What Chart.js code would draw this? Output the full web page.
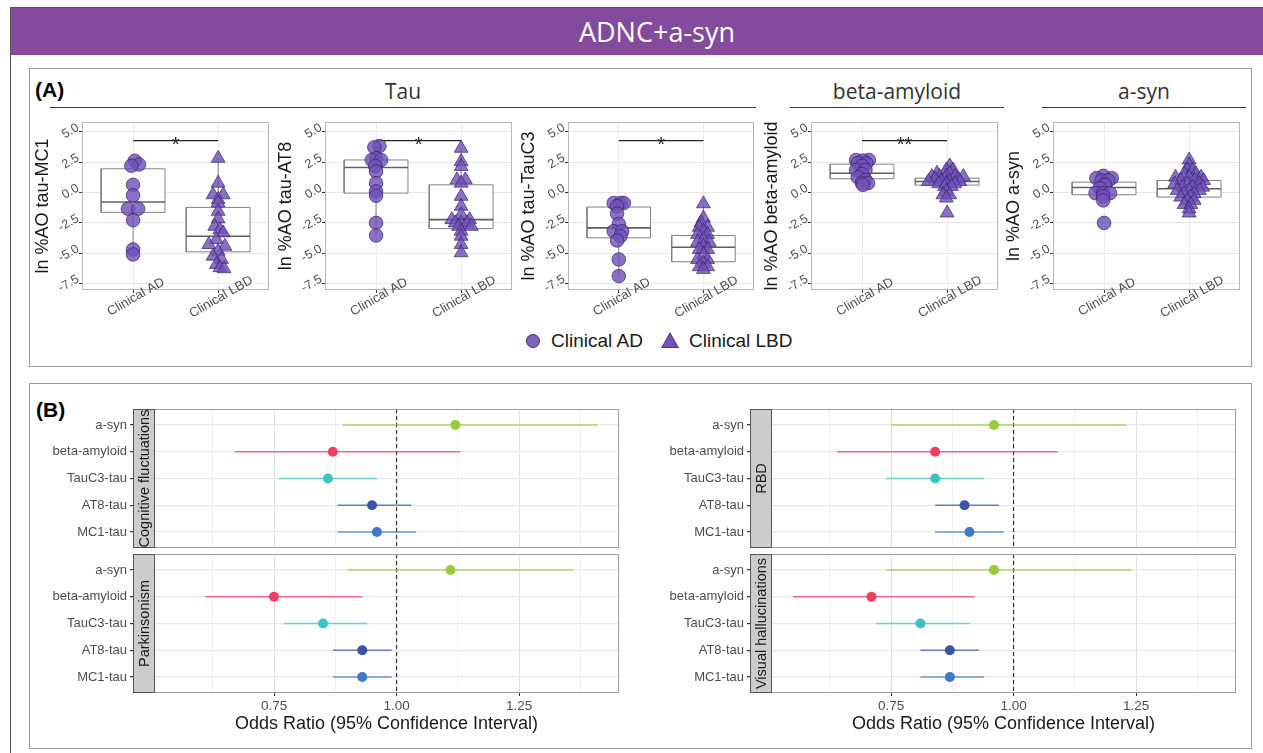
<!DOCTYPE html>
<html>
<head>
<title>ADNC+a-syn</title>
<script src="https://cdn.jsdelivr.net/npm/chart.js"></script>
<style>
  body { margin: 0; width: 1263px; height: 753px; overflow: hidden; background: #fff; position: relative;
         font-family: "Liberation Sans", Arial, sans-serif; }
  .abs { position: absolute; }
  canvas { position: absolute; }
  #frame { left: 10px; top: 7px; width: 1262px; height: 760px; border: 1.5px solid #555; box-sizing: border-box; }
  #header { left: 11px; top: 8px; width: 1292px; height: 47px; background: #834a9e; color: #fff;
            font: 27px "Open Sans", sans-serif; text-align: center; line-height: 47px; }
  .panel { border: 1px solid #9a9a9a; box-sizing: border-box; }
  .plabel { font: bold 21px "Liberation Sans", Arial, sans-serif; color: #000; }
  .strip { font: 21px "Open Sans", sans-serif; color: #333; text-align: center; line-height: 28px;
           height: 30px; border-bottom: 1.5px solid #333; }
  .leg { font-size: 19px; color: #1a1a1a; white-space: nowrap; top: 330px; }
  .dot { width: 14px; height: 14px; border-radius: 50%; background: rgba(112, 82, 184, 0.9);
         border: 1px solid #3a2a6a; box-sizing: border-box; top: 334px; }
  .tri { width: 18px; height: 16px; clip-path: polygon(50% 0, 100% 100%, 0 100%); background: #4a3590; top: 332px; }
  .tri::after { content: ""; position: absolute; left: 1.5px; top: 2px; width: 15px; height: 13px;
                clip-path: polygon(50% 0, 100% 100%, 0 100%); background: #7252b8; }
</style>
</head>
<body>
<div id="frame" class="abs"></div>
<div id="header" class="abs">ADNC+a-syn</div>

<div class="abs panel" style="left:29px; top:68px; width:1223px; height:299px;"></div>
<div class="abs panel" style="left:29px; top:383px; width:1223px; height:366px;"></div>

<div class="abs plabel" style="left:35px; top:78px;">(A)</div>
<div class="abs plabel" style="left:36px; top:398px;">(B)</div>

<div class="abs strip" style="left:50px; top:77px; width:706px;">Tau</div>
<div class="abs strip" style="left:790px; top:77px; width:214px;">beta-amyloid</div>
<div class="abs strip" style="left:1042px; top:77px; width:204px;">a-syn</div>

<div class="abs dot" style="left:526px;"></div>
<div class="abs leg" style="left:551px;">Clinical AD</div>
<div class="abs tri" style="left:661px;"></div>
<div class="abs leg" style="left:689px;">Clinical LBD</div>

<script>
  Chart.defaults.font.family = '"Liberation Sans", Arial, sans-serif';

  // ---- Panel A data ----
  const groups = ['Clinical AD', 'Clinical LBD'];
  const yMajor = [-7.5, -5.0, -2.5, 0, 2.5, 5.0];
  const yMinor = [-6.25, -3.75, -1.25, 1.25, 3.75];

  // box stats per group: [min, q1, median, q3, max]
  const mc1Box = [[-5.12, -1.65, -0.8, 1.94, 2.67], [-6.21, -4.9, -3.62, -1.24, 2.81]];
  const mc1AD = [2.6, 2.3, 2.2, 0.62, -0.25, -1.35, -1.35, -2.3, -4.71, -5.12];
  const mc1ADjit = [0.02, 0.07, -0.02, 0, 0, -0.06, 0.06, 0, 0, 0];
  const mc1LBD = [2.81, 0.76, -0.2, -0.2, -0.6, -0.88, -1.56, -2.19, -2.8, -3.07, -3.34, -3.89, -4.3, -4.44, -4.85, -5.26, -5.53, -5.94, -6.21, -6.3];
  const mc1LBDjit = [0, 0, -0.06, 0.06, 0, 0, 0, 0, -0.04, 0.02, 0.06, -0.02, -0.11, 0.08, 0, -0.06, 0.04, -0.02, 0.02, 0.07];

  const at8Box = [[-3.56, -0.06, 2.05, 2.67, 3.82], [-4.98, -2.99, -2.25, 0.62, 3.63]];
  const at8AD = [3.82, 3.71, 2.81, 2.67, 2.67, 2.18, 1.72, 0.76, 0.08, -0.28, -2.52, -3.56];
  const at8ADjit = [0.04, -0.02, 0, -0.05, 0.06, -0.01, 0, 0, 0, 0, 0, 0];
  const at8LBD = [3.63, 2.54, 2.13, 1.03, 1.03, 0.76, -0.33, -1.15, -1.84, -2.25, -2.25, -2.52, -2.52, -2.52, -2.8, -2.8, -3.2, -3.62, -4.3, -4.98];
  const at8LBDjit = [0, 0, 0, -0.05, 0.05, 0, 0, 0, 0, -0.11, 0.1, 0, -0.07, 0.07, -0.03, 0.12, 0, 0, 0, 0];

  const tc3Box = [[-6.9, -3.75, -2.93, -1.21, -0.88], [-6.35, -5.72, -4.52, -3.56, -0.94]];
  const tc3AD = [-0.88, -0.88, -0.88, -1.15, -1.76, -2.6, -3.2, -3.2, -3.62, -3.97, -5.53, -6.9];
  const tc3ADjit = [-0.06, 0.02, 0.06, -0.02, -0.02, 0, -0.06, 0.04, 0.02, -0.02, 0, 0];
  const tc3LBD = [-0.94, -2.11, -2.52, -2.88, -2.88, -3.2, -3.48, -3.48, -3.89, -4.11, -4.11, -4.44, -4.71, -4.71, -5.12, -5.53, -5.53, -5.86, -6.13, -6.13, -6.35];
  const tc3LBDjit = [0, 0, -0.03, -0.05, 0.05, 0, -0.07, 0.05, 0, -0.07, 0.07, 0, -0.05, 0.05, 0, -0.07, 0.05, 0, -0.05, 0.05, 0];

  const abBox = [[0.62, 1.12, 1.58, 2.32, 2.67], [-0.2, 0.6, 0.9, 1.17, 1.85]];
  const abAD = [2.67, 2.67, 2.62, 2.4, 2.4, 2.18, 1.85, 1.85, 1.5, 1.25, 1.03, 0.76, 0.76, 0.62];
  const abADjit = [-0.07, 0.08, 0.01, -0.05, 0.05, 0, -0.07, 0.04, 0, -0.05, 0.04, 0, 0.07, 0.01];
  const abLBD = [2.18, 1.85, 1.85, 1.58, 1.58, 1.3, 1.3, 1.3, 1.3, 1.3, 1.09, 1.09, 1.09, 0.9, 0.9, 0.9, 0.9, 0.71, 0.71, 0.71, 0.49, 0.49, 0.08, -0.2, -0.2, -0.47, -1.7];
  const abLBDjit = [0.03, -0.01, 0.07, -0.12, 0.03, -0.18, -0.09, -0.01, 0.09, 0.19, -0.14, -0.03, 0.13, -0.22, -0.07, 0.03, 0.15, -0.1, -0.01, 0.09, -0.03, 0.05, -0.01, -0.05, 0.03, -0.01, 0];

  const asBox = [[-0.66, -0.2, 0.4, 0.84, 1.36], [-1.7, -0.39, 0.3, 0.98, 2.67]];
  const asAD = [1.36, 1.17, 1.17, 0.98, 0.98, 0.62, 0.35, -0.06, -0.06, -0.06, -0.33, -0.66, -2.52];
  const asADjit = [-0.01, -0.09, 0.09, -0.03, 0.05, 0.01, -0.05, -0.1, -0.01, 0.07, -0.01, -0.01, 0];
  const asLBD = [2.67, 2.26, 1.85, 1.85, 1.53, 1.53, 1.25, 1.25, 1.25, 0.98, 0.98, 0.98, 0.71, 0.71, 0.71, 0.43, 0.43, 0.43, 0.16, 0.16, 0.16, -0.11, -0.11, -0.39, -0.39, -0.66, -0.66, -1.0, -1.0, -1.37, -1.7];
  const asLBDjit = [0, 0, -0.02, 0.04, -0.06, 0.08, -0.16, 0, 0.14, -0.1, 0.06, 0.17, -0.17, -0.02, 0.12, -0.08, 0.04, 0.16, -0.14, 0, 0.12, -0.06, 0.06, -0.1, 0.02, -0.02, 0.06, -0.06, 0.02, 0, 0];

  // significance bars: [y, label]
  const mc1Sig = [4.26, '*'];
  const at8Sig = [4.26, '*'];
  const tc3Sig = [4.26, '*'];
  const abSig = [4.26, '**'];

  // ---- Panel B data ----
  const orLabels = ['a-syn', 'beta-amyloid', 'TauC3-tau', 'AT8-tau', 'MC1-tau'];
  const orColors = ['#9acb3c', '#ef3e63', '#3fc2c5', '#3b55a5', '#3f79c9'];
  const xMajor = [0.75, 1.0, 1.25];
  const xMinor = [0.625, 0.875, 1.125, 1.375];

  const cogOR = [1.12, 0.87, 0.86, 0.95, 0.96];
  const cogLo = [0.89, 0.67, 0.76, 0.88, 0.88];
  const cogHi = [1.41, 1.13, 0.96, 1.03, 1.04];

  const parkOR = [1.11, 0.75, 0.85, 0.93, 0.93];
  const parkLo = [0.90, 0.61, 0.77, 0.87, 0.87];
  const parkHi = [1.36, 0.93, 0.94, 0.99, 0.99];

  const rbdOR = [0.96, 0.84, 0.84, 0.90, 0.91];
  const rbdLo = [0.75, 0.64, 0.74, 0.84, 0.84];
  const rbdHi = [1.23, 1.09, 0.94, 0.97, 0.98];

  const vhOR = [0.96, 0.71, 0.81, 0.87, 0.87];
  const vhLo = [0.74, 0.55, 0.72, 0.81, 0.81];
  const vhHi = [1.24, 0.92, 0.91, 0.93, 0.94];

  const purpleFill = 'rgba(112, 82, 184, 0.82)';
  const purpleEdge = 'rgba(50, 32, 105, 0.85)';

  function makeCanvas(x, y, w, h) {
    const c = document.createElement('canvas');
    c.width = w; c.height = h;
    c.style.left = x + 'px'; c.style.top = y + 'px';
    c.style.width = w + 'px'; c.style.height = h + 'px';
    document.body.appendChild(c);
    return c;
  }

  // panel frame, significance label, slanted group labels, facet strip
  const deco = {
    id: 'deco',
    afterDatasetsDraw(chart, args, opts) {
      const a = chart.chartArea, ctx = chart.ctx;
      ctx.save();
      ctx.strokeStyle = opts.frame || '#b3b3b3';
      ctx.lineWidth = 1;
      ctx.strokeRect(Math.round(a.left) + 0.5, Math.round(a.top) + 0.5,
                     Math.round(a.right - a.left) - 1, Math.round(a.bottom - a.top) - 1);
      if (opts.sig) {
        const x = chart.scales.x.getPixelForValue(1.5);
        const y = chart.scales.y.getPixelForValue(opts.sig[0]);
        ctx.fillStyle = '#222';
        ctx.font = '20px "Liberation Sans", Arial, sans-serif';
        ctx.textAlign = 'center';
        ctx.textBaseline = 'alphabetic';
        ctx.fillText(opts.sig[1], x, y + 10);
      }
      ctx.restore();
    },
    afterDraw(chart, args, opts) {
      const a = chart.chartArea, ctx = chart.ctx;
      if (opts.cats) {
        const sx = chart.scales.x;
        ctx.save();
        ctx.fillStyle = '#4d4d4d';
        ctx.font = '13px "Liberation Sans", Arial, sans-serif';
        ctx.textAlign = 'center';
        ctx.textBaseline = 'middle';
        sx.ticks.forEach(t => {
          ctx.save();
          ctx.translate(sx.getPixelForValue(t.value) + 3, a.bottom + 7);
          ctx.rotate(-Math.PI / 6);
          ctx.fillText(opts.cats[t.value - 1], 0, 0);
          ctx.restore();
        });
        ctx.restore();
      }
      if (!opts.strip) return;
      const w = 21;
      ctx.save();
      ctx.fillStyle = '#cccccc';
      ctx.fillRect(a.left - w, a.top, w, a.bottom - a.top);
      ctx.strokeStyle = '#555';
      ctx.lineWidth = 1;
      ctx.strokeRect(Math.round(a.left - w) + 0.5, Math.round(a.top) + 0.5, w, Math.round(a.bottom - a.top) - 1);
      ctx.translate(a.left - w / 2, (a.top + a.bottom) / 2);
      ctx.rotate(-Math.PI / 2);
      ctx.fillStyle = '#1a1a1a';
      ctx.font = '14.5px "Liberation Sans", Arial, sans-serif';
      ctx.textAlign = 'center';
      ctx.textBaseline = 'middle';
      ctx.fillText(opts.strip, 0, 1);
      ctx.restore();
    }
  };

  function lineDs(points, color, width, order, extra) {
    return Object.assign({ type: 'line', data: points, borderColor: color, borderWidth: width,
      pointRadius: 0, fill: false, tension: 0, order: order }, extra || {});
  }

  function boxChart(px, py, pw, ph, yTitle, box, ad, adJit, lbd, lbdJit, sig) {
    const yW = 56, top = 14, right = 6, xH = 62;
    const cv = makeCanvas(px - yW, py - top, yW + pw + right, top + ph + xH);
    const hw = 0.375;
    const ds = [];
    ds.push({ type: 'scatter', data: ad.map((v, i) => ({ x: 1 + adJit[i], y: v })), pointStyle: 'circle',
      pointRadius: 6.8, backgroundColor: purpleFill, borderColor: purpleEdge, borderWidth: 0.8, order: 0 });
    ds.push({ type: 'scatter', data: lbd.map((v, i) => ({ x: 2 + lbdJit[i], y: v })), pointStyle: 'triangle',
      pointRadius: 8, backgroundColor: purpleFill, borderColor: purpleEdge, borderWidth: 0.8, order: 0 });
    box.forEach((b, g) => {
      const x = g + 1;
      ds.push(lineDs([{ x: x - hw, y: b[1] }, { x: x + hw, y: b[1] }, { x: x + hw, y: b[3] },
                      { x: x - hw, y: b[3] }, { x: x - hw, y: b[1] }], '#828282', 1, 2,
                     { fill: 'shape', backgroundColor: '#ffffff' }));
      ds.push(lineDs([{ x: x - hw, y: b[2] }, { x: x + hw, y: b[2] }], '#5f5f5f', 1.6, 1));
      ds.push(lineDs([{ x: x, y: b[3] }, { x: x, y: b[4] }], '#828282', 1, 3));
      ds.push(lineDs([{ x: x, y: b[0] }, { x: x, y: b[1] }], '#828282', 1, 3));
    });
    if (sig) ds.push(lineDs([{ x: 1, y: sig[0] }, { x: 2, y: sig[0] }], '#222', 1.3, 0));

    new Chart(cv, {
      type: 'scatter',
      data: { datasets: ds },
      options: {
        responsive: false, animation: false, events: [],
        layout: { padding: { top: top, right: right, left: 0, bottom: 0 } },
        plugins: { legend: { display: false }, tooltip: { enabled: false },
                   deco: { sig: sig, frame: '#b8b8b8', cats: groups } },
        scales: {
          x: {
            type: 'linear', min: 0.4, max: 2.6,
            afterBuildTicks: s => { s.ticks = [1, 2].map(v => ({ value: v })); },
            afterFit: s => { s.height = xH; },
            ticks: { display: false },
            grid: { color: '#ebebeb', tickColor: '#333', tickLength: 3 },
            border: { display: false }
          },
          y: {
            type: 'linear', min: -8.05, max: 5.8,
            afterBuildTicks: s => { s.ticks = yMajor.concat(yMinor).sort((a, b) => a - b).map(v => ({ value: v })); },
            afterFit: s => { s.width = yW; },
            ticks: { callback: v => yMajor.includes(v) ? v.toFixed(1) : '', minRotation: 30, maxRotation: 30,
                     color: '#4d4d4d', font: { size: 12.5 }, padding: 1, labelOffset: -5 },
            grid: { color: c => yMajor.includes(c.tick.value) ? '#e6e6e6' : '#f3f3f3',
                    tickColor: c => yMajor.includes(c.tick.value) ? '#333' : 'rgba(0,0,0,0)', tickLength: 3 },
            border: { display: false },
            title: { display: true, text: yTitle, font: { size: 18 }, color: '#1a1a1a', padding: { top: 6, bottom: 0 } }
          }
        }
      },
      plugins: [deco]
    });
  }

  function forestChart(px, py, pw, ph, strip, or, lo, hi, showX) {
    const yW = 124, top = 14, right = 4, xH = showX ? 44 : 14;
    const cv = makeCanvas(px - yW, py - top, yW + pw + right, top + ph + xH);
    const ds = [];
    ds.push({ type: 'scatter', data: or.map((v, i) => ({ x: v, y: i + 1 })), pointStyle: 'circle', pointRadius: 5,
      backgroundColor: orColors, borderColor: orColors, borderWidth: 0, order: 0 });
    or.forEach((v, i) => {
      ds.push(lineDs([{ x: lo[i], y: i + 1 }, { x: hi[i], y: i + 1 }], orColors[i] + 'c0', 1.6, 1));
    });
    ds.push(lineDs([{ x: 1, y: 0.4 }, { x: 1, y: 5.6 }], '#333', 1.2, 2, { borderDash: [4, 3] }));

    new Chart(cv, {
      type: 'scatter',
      data: { datasets: ds },
      options: {
        responsive: false, animation: false, events: [],
        layout: { padding: { top: top, right: right, left: 0, bottom: 0 } },
        plugins: { legend: { display: false }, tooltip: { enabled: false },
                   deco: { strip: strip, frame: '#a0a0a0' } },
        scales: {
          x: {
            type: 'linear', min: 0.505, max: 1.454,
            afterBuildTicks: s => { s.ticks = xMajor.concat(xMinor).sort((a, b) => a - b).map(v => ({ value: v })); },
            afterFit: s => { s.height = xH; },
            ticks: { display: showX, callback: v => xMajor.includes(v) ? v.toFixed(2) : '', maxRotation: 0,
                     color: '#4d4d4d', font: { size: 13.5 }, padding: 2 },
            grid: { color: c => xMajor.includes(c.tick.value) ? '#e0e0e0' : '#f0f0f0', drawTicks: showX,
                    tickColor: c => xMajor.includes(c.tick.value) ? '#333' : 'rgba(0,0,0,0)', tickLength: 3 },
            border: { display: false },
            title: { display: showX, text: 'Odds Ratio (95% Confidence Interval)', font: { size: 18 },
                     color: '#1a1a1a', padding: { top: 0, bottom: 2 } }
          },
          y: {
            type: 'linear', reverse: true, min: 0.4, max: 5.6,
            afterBuildTicks: s => { s.ticks = [1, 2, 3, 4, 5].map(v => ({ value: v })); },
            afterFit: s => { s.width = yW; },
            ticks: { callback: v => orLabels[v - 1], color: '#4d4d4d', font: { size: 13 }, padding: 3 },
            grid: { color: '#e8e8e8', lineWidth: 1.2, tickColor: '#333', tickLength: 24 },
            border: { display: false }
          }
        }
      },
      plugins: [deco]
    });
  }

  boxChart(82, 122, 190, 168, 'ln %AO tau-MC1', mc1Box, mc1AD, mc1ADjit, mc1LBD, mc1LBDjit, mc1Sig);
  boxChart(325, 122, 190, 168, 'ln %AO tau-AT8', at8Box, at8AD, at8ADjit, at8LBD, at8LBDjit, at8Sig);
  boxChart(568, 122, 189, 168, 'ln %AO tau-TauC3', tc3Box, tc3AD, tc3ADjit, tc3LBD, tc3LBDjit, tc3Sig);
  boxChart(811, 122, 190, 168, 'ln %AO beta-amyloid', abBox, abAD, abADjit, abLBD, abLBDjit, abSig);
  boxChart(1053, 122, 190, 168, 'ln %AO a-syn', asBox, asAD, asADjit, asLBD, asLBDjit, null);

  forestChart(154, 409, 466, 139, 'Cognitive fluctuations', cogOR, cogLo, cogHi, false);
  forestChart(154, 554, 466, 139, 'Parkinsonism', parkOR, parkLo, parkHi, true);
  forestChart(771, 409, 466, 139, 'RBD', rbdOR, rbdLo, rbdHi, false);
  forestChart(771, 554, 466, 139, 'Visual hallucinations', vhOR, vhLo, vhHi, true);
</script>
</body>
</html>
